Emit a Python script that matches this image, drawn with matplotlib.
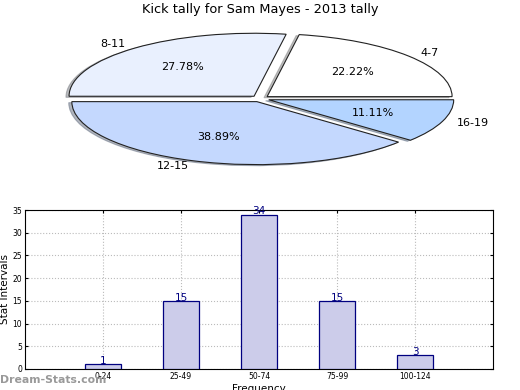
import matplotlib
matplotlib.use('Agg')
import matplotlib.pyplot as plt

# pie data
pie_labels = ['4-7', '8-11', '12-15', '16-19']
pie_counts = [4, 5, 7, 2]
pie_colors = ['#ffffff', '#e9f0fe', '#c4d8fe', '#b3d4ff']

# bar data
bar_labels = ['0-24', '25-49', '50-74', '75-99', '100-124']
bar_values = [1, 15, 34, 15, 3]

fig = plt.figure(figsize=(5.2, 3.9), dpi=100)

ax1 = fig.add_axes([19.5 / 520, 0.537, 481 / 520, 0.42])
wedges, texts, autotexts = ax1.pie(
    pie_counts, labels=pie_labels, colors=pie_colors, autopct='%.2f%%',
    explode=[0.05] * len(pie_counts),
    shadow={'ox': -0.012, 'oy': -0.012, 'shade': 0.5},
    startangle=0, labeldistance=1.08, pctdistance=0.6,
    wedgeprops={'edgecolor': '#222222', 'linewidth': 0.8},
    textprops={'fontsize': 8})
ax1.set_aspect('auto')
ax1.set_xlim(-1.3, 1.3)
ax1.set_ylim(-1.3, 1.3)
fig.text(0.5, 0.975, 'Kick tally for Sam Mayes - 2013 tally',
         ha='center', va='center', fontsize=9.3)

ax2 = fig.add_axes([25 / 520, 21 / 390, 468 / 520, 159 / 390])
x = range(len(bar_values))
bars = ax2.bar(x, bar_values, width=0.46, color='#ccccea',
               edgecolor='#000080', linewidth=0.9, zorder=3)
for xi, v in zip(x, bar_values):
    ax2.text(xi, v - 0.4, str(v), ha='center', va='bottom',
             color='#000080', fontsize=7.5, zorder=4)
ax2.set_xlim(-1, 5)
ax2.set_ylim(0, 35)
ax2.set_xticks(list(x))
ax2.set_xticklabels(bar_labels)
ax2.set_yticks(range(0, 36, 5))
ax2.tick_params(labelsize=5.5, length=2, right=True, top=True, direction='in', pad=2)
ax2.grid(True, linestyle=':', color='#bbbbbb', linewidth=0.8, zorder=0)
ax2.set_ylabel('Stat Intervals', fontsize=7.5, labelpad=2)
ax2.set_xlabel('Frequency', fontsize=7.5, labelpad=2)

fig.text(0.0, 0.025, 'Dream-Stats.com', color='#999999', fontsize=7.8,
         fontweight='bold', ha='left', va='center')

fig.savefig('out.png', dpi=100)
